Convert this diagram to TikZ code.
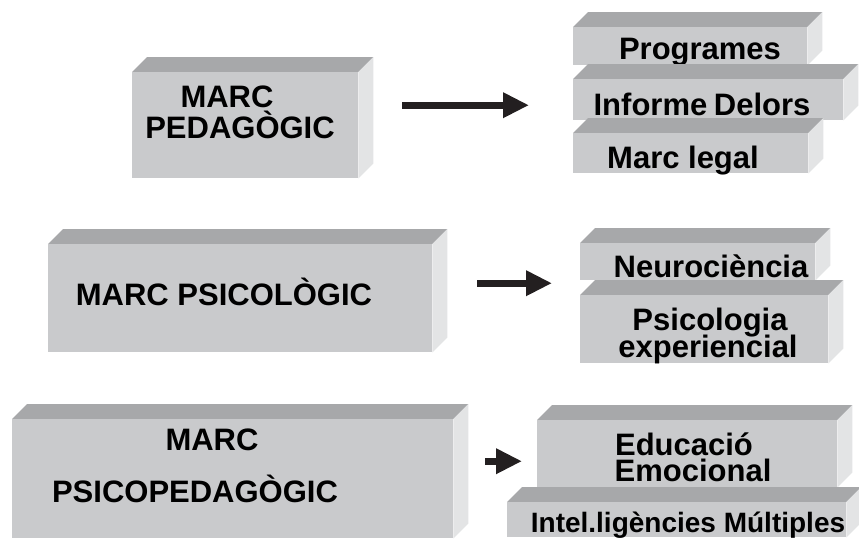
\documentclass[tikz,border=0pt]{standalone}
\usepackage{fontspec}
\setmainfont{Liberation Sans}
\usetikzlibrary{arrows.meta}
\definecolor{slabfront}{HTML}{C9CACC}
\definecolor{slabtop}{HTML}{A7A8AA}
\definecolor{slabside}{HTML}{E3E4E5}
\definecolor{arrowc}{HTML}{231F20}

\tikzset{
  slab/.style 2 args={fill=slabfront,inner sep=0pt,anchor=north west,
    minimum width=#1,minimum height=#2,
    append after command={\pgfextra{\let\slabnode\tikzlastnode
      \fill[slabtop] (\slabnode.north west) -- ++(15pt,15pt)
        -- ([shift={(15pt,15pt)}]\slabnode.north east) -- (\slabnode.north east) -- cycle;
      \fill[slabside] (\slabnode.north east) -- ++(15pt,15pt)
        -- ([shift={(15pt,15pt)}]\slabnode.south east) -- (\slabnode.south east) -- cycle;}}},
  lbl/.style={anchor=base,inner sep=0pt,font=\fontsize{31}{31}\selectfont\bfseries},
  arr/.style={draw=arrowc,line width=7pt,-{Triangle[length=26pt,width=24pt]}}
}

\begin{document}
\begin{tikzpicture}[x=1pt,y=-1pt]
 \useasboundingbox (0,0) rectangle (859,542);
 \clip (0,0) rectangle (859,542);

 % left column
 \node[slab={226pt}{106pt}] (ped) at (132,72) {};
 \node[lbl] (ped-a) at (227,107) {MARC};
 \node[lbl] (ped-b) at (240,138) {PEDAGÒGIC};
 \node[slab={384pt}{108pt}] (psi) at (48,244) {};
 \node[lbl] (psi-a) at (224,305) {MARC PSICOLÒGIC};
 \node[slab={441pt}{119pt}] (psp) at (12,419) {};
 \node[lbl] (psp-a) at (212,450) {MARC};
 \node[lbl] (psp-b) at (195,502) {PSICOPEDAGÒGIC};

 % right column, stacked
 \node[slab={234pt}{38pt}] (prog) at (573,27) {};
 \node[lbl] (prog-a) at (700,59) {Programes};
 \node[slab={270pt}{41pt}] (inf) at (573,79) {};
 \node[lbl] (inf-a) at (702,115) {Informe\hspace{-2pt} Delors};
 \node[slab={235pt}{40pt}] (leg) at (573,133) {};
 \node[lbl] (leg-a) at (683,168) {Marc legal};

 \node[slab={235pt}{37pt}] (neu) at (580,243) {};
 \node[lbl] (neu-a) at (711,277) {Neurociència};
 \node[slab={248pt}{68pt}] (psy) at (580,295) {};
 \node[lbl] (psy-a) at (710,330) {Psicologia};
 \node[lbl] (psy-b) at (708,357) {experiencial};

 \node[slab={300pt}{67pt}] (edu) at (537,420) {};
 \node[lbl] (edu-a) at (684,455) {Educació};
 \node[lbl] (edu-b) at (693,481) {Emocional};
 \node[slab={339pt}{35pt}] (int) at (507,502) {};
 \node[lbl,font=\fontsize{28}{28}\selectfont\bfseries] (int-a) at (688,532) {Intel.ligències Múltiples};

 % arrows
 \draw[arr,shorten <=44pt,shorten >=44pt] ([yshift=20pt]ped.east) -- ([yshift=20pt]ped.east -| inf.west);
 \draw[arr,shorten <=45pt,shorten >=28pt] ([yshift=15pt]psi.east) -- ([yshift=15pt]psi.east -| neu.west);
 \draw[arr,shorten <=32pt,shorten >=15pt] ([yshift=17.5pt]psp.east) -- ([yshift=17.5pt]psp.east -| edu.west);
\end{tikzpicture}
\end{document}
